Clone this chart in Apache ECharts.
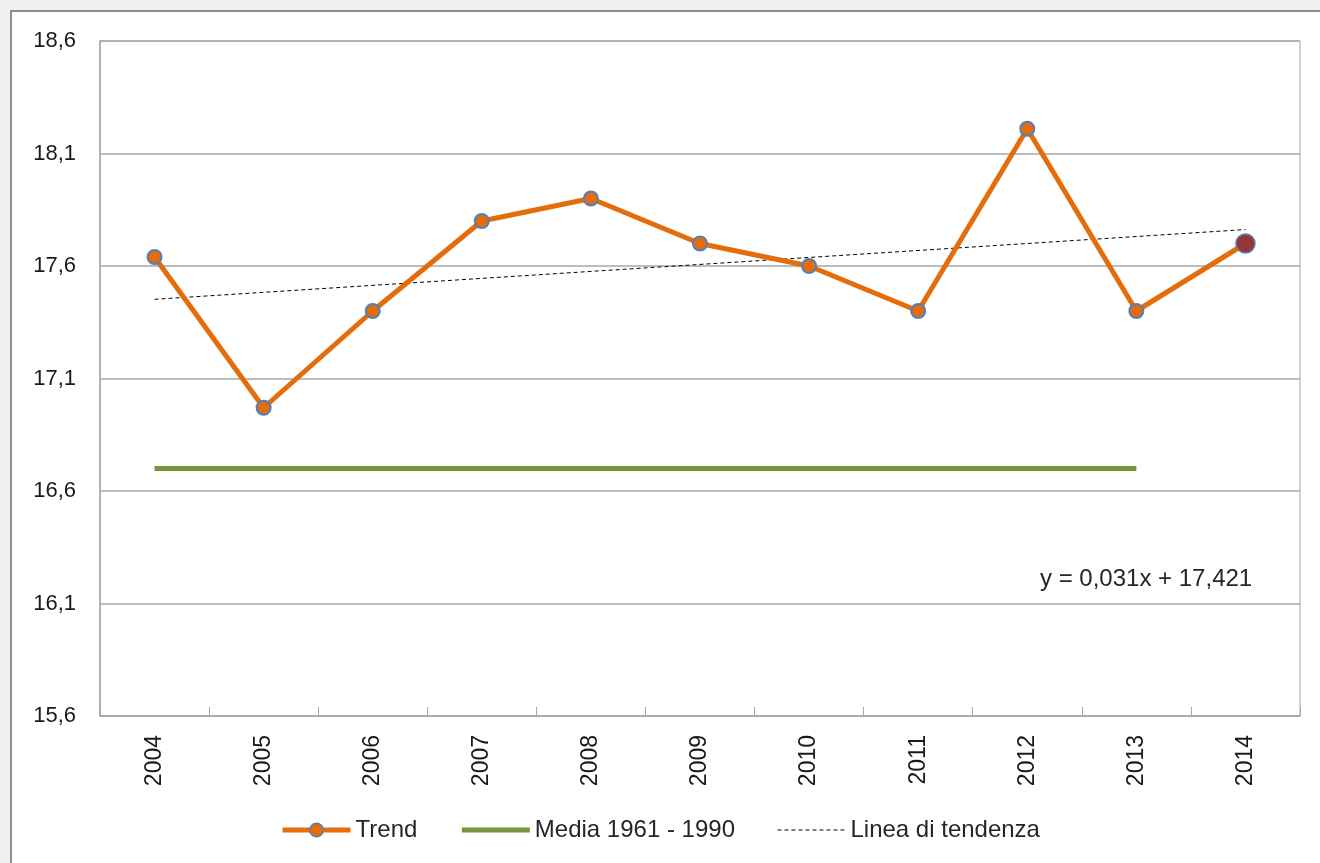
<!DOCTYPE html>
<html>
<head>
<meta charset="utf-8">
<script src="https://cdn.jsdelivr.net/npm/echarts@6/dist/echarts.min.js"></script>
<style>
  html, body { margin: 0; padding: 0; background: #f0f0f0; }
  #chart { width: 1320px; height: 863px; }
</style>
</head>
<body>
<div id="chart"></div>
<script>
const years = ['2004', '2005', '2006', '2007', '2008', '2009', '2010', '2011', '2012', '2013', '2014']
const trendValues = [17.64, 16.97, 17.40, 17.80, 17.90, 17.70, 17.60, 17.40, 18.21, 17.40, 17.70]
const mediaValues = [16.70, 16.70, 16.70, 16.70, 16.70, 16.70, 16.70, 16.70, 16.70, 16.70, null]
// end points of the trend line as drawn (2004 and 2014)
const tendenzaValues = [17.452, null, null, null, null, null, null, null, null, null, 17.762]
const equation = 'y = 0,031x + 17,421'

const chart = echarts.init(document.getElementById('chart'))

const trendData = trendValues.map((v, i) => {
  if (i === trendValues.length - 1) {
    return {
      value: v,
      symbolSize: 19,
      itemStyle: { color: '#953735', borderColor: '#4f81bd', borderWidth: 1.5 }
    }
  }
  return v
})

chart.setOption({
  backgroundColor: '#f0f0f0',
  animation: false,
  textStyle: { fontFamily: 'Liberation Sans' },
  graphic: [
    {
      type: 'rect',
      z: -10,
      shape: { x: 11, y: 11, width: 1320, height: 870 },
      style: { fill: '#ffffff', stroke: '#8c8c8c', lineWidth: 2 }
    },
    {
      type: 'text',
      left: 1040,
      top: 567,
      z: 10,
      style: {
        text: equation,
        font: '24px "Liberation Sans"',
        fill: '#262626'
      }
    }
  ],
  grid: {
    left: 100,
    right: 20,
    top: 41,
    bottom: 147,
    show: true,
    borderColor: '#a6a6a6',
    borderWidth: 1,
    backgroundColor: 'transparent'
  },
  legend: {
    bottom: 16,
    left: 'center',
    itemWidth: 68,
    itemHeight: 17,
    itemGap: 42,
    textStyle: { fontSize: 24, color: '#262626', fontFamily: 'Liberation Sans' },
    data: [
      {
        name: 'Trend',
        lineStyle: { width: 5, color: '#e46c0a' },
        itemStyle: { color: '#e46c0a', borderColor: '#4f81bd', borderWidth: 1.5 }
      },
      {
        name: 'Media 1961 - 1990',
        lineStyle: { width: 5, color: '#77933c' },
        itemStyle: { opacity: 0 }
      },
      {
        name: 'Linea di tendenza',
        lineStyle: { width: 1, color: '#000000', type: [4, 3] },
        itemStyle: { opacity: 0 }
      }
    ]
  },
  xAxis: {
    type: 'category',
    data: years,
    boundaryGap: true,
    axisLine: { lineStyle: { color: '#a6a6a6', width: 1.5 } },
    axisTick: { show: true, inside: true, length: 9, lineStyle: { color: '#a6a6a6' } },
    axisLabel: { rotate: 90, fontSize: 23, color: '#1a1a1a', margin: 19 },
    splitLine: { show: false }
  },
  yAxis: {
    type: 'value',
    min: 15.6,
    max: 18.6,
    interval: 0.5,
    axisLine: { show: true, lineStyle: { color: '#a6a6a6', width: 1.5 } },
    axisTick: { show: false },
    axisLabel: {
      fontSize: 22,
      color: '#1a1a1a',
      margin: 24,
      formatter: v => v.toFixed(1).replace('.', ',')
    },
    splitLine: { show: true, lineStyle: { color: '#a6a6a6', width: 1.5 } }
  },
  series: [
    {
      name: 'Media 1961 - 1990',
      type: 'line',
      data: mediaValues,
      symbol: 'none',
      color: '#77933c',
      lineStyle: { color: '#77933c', width: 5 },
      z: 2
    },
    {
      name: 'Linea di tendenza',
      type: 'line',
      data: tendenzaValues,
      connectNulls: true,
      symbol: 'none',
      color: '#000000',
      lineStyle: { color: '#000000', width: 1, type: [4, 3] },
      z: 3
    },
    {
      name: 'Trend',
      type: 'line',
      data: trendData,
      symbol: 'circle',
      symbolSize: 14,
      color: '#e46c0a',
      lineStyle: { color: '#e46c0a', width: 5 },
      itemStyle: { color: '#e46c0a', borderColor: '#4f81bd', borderWidth: 2 },
      z: 4
    }
  ]
})
</script>
</body>
</html>
